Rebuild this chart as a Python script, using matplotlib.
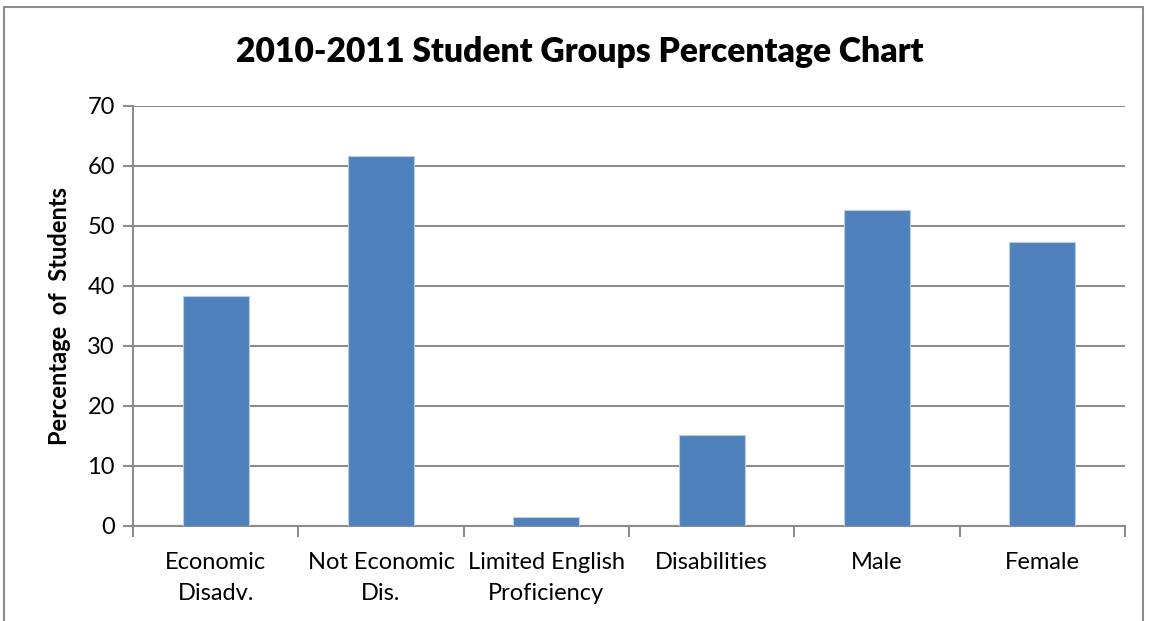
import matplotlib.pyplot as plt
import numpy as np
from matplotlib.patches import Rectangle

categories = ["Economic\nDisadv.", "Not Economic\nDis.", "Limited English\nProficiency",
              "Disabilities", "Male", "Female"]
values = [38.4, 61.7, 1.5, 15.2, 52.7, 47.4]
yticks = [0, 10, 20, 30, 40, 50, 60, 70]

plt.rcParams['font.family'] = ['Lato', 'DejaVu Sans']

fig = plt.figure(figsize=(11.49, 6.21), dpi=100)
ax = fig.add_axes([133 / 1149, 1 - 526 / 621, 992 / 1149, 420 / 621])

x = np.arange(len(categories))
ax.bar(x, values, width=0.4, color="#4f81bd", edgecolor="#b9cde5", linewidth=0.8, zorder=3)

ax.set_xlim(-0.5, len(categories) - 0.5)
ax.set_ylim(0, 70)
ax.set_yticks(yticks)
ax.set_yticklabels([str(t) for t in yticks], fontsize=17)
ax.yaxis.grid(True, color="#8c8c8c", linewidth=1.5, zorder=0)

ax.set_xticks(x)
ax.set_xticklabels(categories, fontsize=17, linespacing=1.55)
ax.set_xticks(np.arange(-0.5, len(categories)), minor=True)
ax.tick_params(axis="x", which="major", length=0, pad=19)
ax.tick_params(axis="x", which="minor", length=8, width=1.5, color="#8c8c8c")
ax.tick_params(axis="y", length=7, width=1.5, color="#8c8c8c", pad=6)

for s in ["top", "right"]:
    ax.spines[s].set_visible(False)
for s in ["left", "bottom"]:
    ax.spines[s].set_color("#8c8c8c")
    ax.spines[s].set_linewidth(1.5)

ax.set_ylabel("Percentage  of  Students", fontsize=17, fontweight="bold", labelpad=12)
fig.text(580 / 1149, 1 - 52 / 621, "2010-2011 Student Groups Percentage Chart",
         fontsize=24.2, fontweight="heavy", ha="center", va="center")

fig.patches.append(Rectangle((4 / 1149, -0.1), 1139 / 1149, 1.1 - 7 / 621,
                             transform=fig.transFigure, fill=False,
                             edgecolor="#8c8c8c", linewidth=1.5))

fig.savefig("out.png", dpi=100)
